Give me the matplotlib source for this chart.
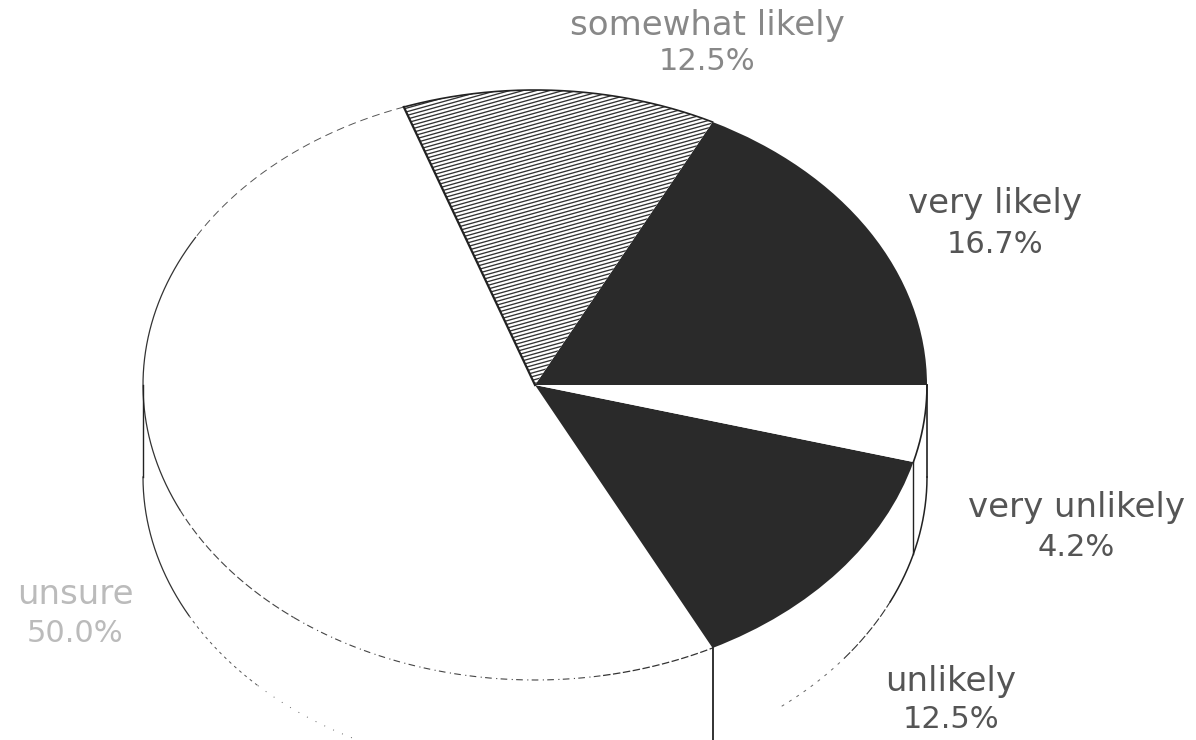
#!/usr/bin/env python3
import numpy as np
import matplotlib
matplotlib.use('Agg')
import matplotlib.pyplot as plt

# slices go counter-clockwise from 3 o'clock
categories = ['very likely', 'somewhat likely', 'unsure', 'unlikely', 'very unlikely']
percent_labels = ['16.7%', '12.5%', '50.0%', '12.5%', '4.2%']
# shares as actually drawn in the picture (not quite the printed percentages)
drawn_shares = [17.5, 12.9, 52.0, 13.3, 4.2]

W, H = 1196, 740
CX, CY = 535, 385    # pie centre in pixels
RX, RY = 392, 295    # ellipse radii in pixels
DEPTH = 92           # height of the side wall
DARK = '#2a2a2a'


def px(x, y):
    """pixel position -> data position of the unit pie"""
    return (x - CX) / RX, (CY - y) / RY


fig = plt.figure(figsize=(W / 100, H / 100), dpi=100, facecolor='white')
ax = fig.add_axes([0, 0, 1, 1])

fills = [DARK, 'white', 'white', DARK, 'white']
wedges, _ = ax.pie(drawn_shares, colors=fills, startangle=0, counterclock=True, radius=1,
                   wedgeprops={'linewidth': 0})
ax.set_aspect('auto')
ax.set_xlim(px(0, 0)[0], px(W, 0)[0])
ax.set_ylim(px(0, H)[1], px(0, 0)[1])
ax.axis('off')

# sloped hatch lines in the somewhat likely slice
for y0 in np.arange(60, 560, 3.7):
    x0, y_a = px(380, y0)
    x1, y_b = px(740, y0 - 100)
    line, = ax.plot([x0, x1], [y_a, y_b], color='#333333', lw=0.95, zorder=3)
    line.set_clip_path(wedges[1])

# outline of the top ellipse: solid near the sides, broken along the front
edges = np.cumsum([0] + drawn_shares) / sum(drawn_shares) * 360


def arc(t0, t1, dy=0, **kw):
    t = np.radians(np.linspace(t0, t1, 200))
    yoff = dy / RY
    ax.plot(np.cos(t), np.sin(t) - yoff, zorder=4, **kw)


arc(edges[1], edges[2], color='#222222', lw=1.2)
arc(edges[2], 150, color='#555555', lw=0.7, ls=(0, (8, 5)))
arc(150, 205, color='#333333', lw=0.9)
arc(205, 232, color='#444444', lw=0.8, ls=(0, (7, 3)))
arc(232, 280, color='#444444', lw=0.8, ls=(0, (6, 4, 1, 3)))
arc(280, edges[3], color='#333333', lw=0.9, ls=(0, (6, 2)))
arc(edges[4], 360, color='#222222', lw=1.2)

# side wall lower rim
arc(180, 208, dy=DEPTH, color='#333333', lw=0.9)
arc(208, 225, dy=DEPTH, color='#555555', lw=0.7, ls=(0, (3, 4)))
arc(225, 245, dy=DEPTH, color='#666666', lw=0.7, ls=(0, (1, 9)))
arc(309, 322, dy=DEPTH, color='#666666', lw=0.7, ls=(0, (3, 6)))
arc(322, 335, dy=DEPTH, color='#333333', lw=0.8, ls=(0, (8, 2)))
arc(335, 360, dy=DEPTH, color='#222222', lw=1.1)

# vertical wall edges at both sides and at the slice boundaries
wall_angles = [180, edges[3], edges[4], 360]
wall_widths = [1.0, 1.3, 1.0, 1.2]
for a, lw in zip(wall_angles, wall_widths):
    x = np.cos(np.radians(a))
    y = np.sin(np.radians(a))
    ax.plot([x, x], [y, y - DEPTH / RY], color='#222222', lw=lw, zorder=4)

# dark rim on the spoke between unsure and somewhat likely
t = np.radians(edges[2])
ax.plot([0, np.cos(t)], [0, np.sin(t)], color='#222222', lw=1.6, zorder=4)

# labels
label_x = [995, 707, 75, 951, 1076]
label_y = [[204, 244], [25, 62], [594, 634], [681, 720], [507, 547]]
label_colors = ['#555555', '#888888', '#bbbbbb', '#555555', '#555555']
for name, pct, lx, ly, col in zip(categories, percent_labels, label_x, label_y, label_colors):
    xd, yd = px(lx, ly[0])
    ax.text(xd, yd, name, ha='center', va='center', fontsize=24.5, color=col,
            family='DejaVu Sans', zorder=5)
    xd, yd = px(lx, ly[1])
    ax.text(xd, yd, pct, ha='center', va='center', fontsize=22, color=col,
            family='DejaVu Sans', zorder=5)

fig.savefig('out.png', dpi=100, facecolor='white')
